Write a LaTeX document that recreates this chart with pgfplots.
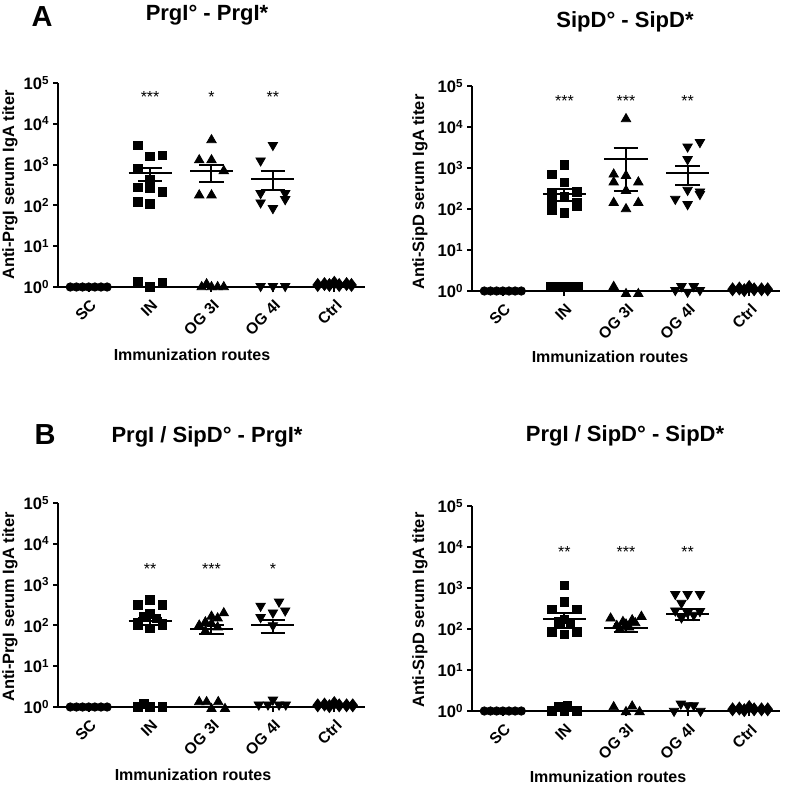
\documentclass[border=0pt]{standalone}
\usepackage{fontspec}
\setmainfont{Liberation Sans}
\usepackage{pgfplots}
\pgfplotsset{compat=1.18}

\newcommand\tf{\bfseries\fontsize{7.8}{9}\selectfont}

\pgfplotsset{
  every axis/.append style={
    scale only axis, clip=false,
    ymode=log, ymin=1, ymax=1e5, xmin=-0.5, xmax=4.5,
    axis x line=bottom, axis y line=left,
    axis line style={line width=1pt, -},
    xtick={0,1,2,3,4}, xticklabels={SC,IN,OG 3I,OG 4I,Ctrl},
    xticklabel style={rotate=45, anchor=north east, font=\tf, inner sep=1pt, xshift=-1pt, yshift=-1.5pt},
    ytick={1,10,100,1000,10000,100000},
    yticklabels={10\textsuperscript{0},10\textsuperscript{1},10\textsuperscript{2},10\textsuperscript{3},10\textsuperscript{4},10\textsuperscript{5}},
    yticklabel style={font=\bfseries\fontsize{8.3}{9}\selectfont, inner sep=1.5pt},
    yminorticks=false,
    tick style={line width=1pt, black}, major tick length=2.5pt, tick align=outside,
  },
  mcirc/.style={only marks, mark=*, mark size=2.1pt, black},
  msq/.style={only marks, mark=square*, mark size=2.1pt, black},
  mtu/.style={only marks, mark=triangle*, mark size=2.7pt, black},
  mtd/.style={only marks, mark=triangle*, mark size=2.7pt, mark options={rotate=180}, black},
  mdm/.style={only marks, mark=diamond*, mark size=3.2pt, black},
  msem/.style={black, line width=1pt, mark=none},
}
% mean line (x1,x2), centre x, caps (c1,c2), mean, lower, upper
\newcommand\msem[8]{%
  \addplot[msem] coordinates {(#1,#6) (#2,#6)};
  \addplot[msem] coordinates {(#3,#7) (#3,#8)};
  \addplot[msem] coordinates {(#4,#7) (#5,#7)};
  \addplot[msem] coordinates {(#4,#8) (#5,#8)};
}
\newcommand\stars[2]{\node[font=\fontsize{8}{9}\selectfont] at (axis cs:#1) {#2};}

\begin{document}
\begin{tikzpicture}
\path[use as bounding box] (0pt,0pt) rectangle (392pt,-393pt);

% ---------- A left
\begin{axis}[width=153.5pt, height=102pt, at={(29pt,-143.5pt)}, anchor=south west]
\addplot[mcirc] coordinates {(-0.3,1) (-0.2,1) (-0.1,1) (0,1) (0.1,1) (0.2,1) (0.3,1)};
\addplot[msq] coordinates {(0.8,3000) (1.0,1600) (1.2,1700) (0.8,800) (1.0,420) (0.8,275)
  (1.0,260) (1.2,215) (0.8,122) (1.0,108) (0.8,1.38) (1.0,1.0) (1.2,1.25)};
\addplot[mtu] coordinates {(2.0,4000) (1.8,1290) (2.0,1290) (2.2,700) (1.8,178) (2.0,178)
  (1.84,1.0) (1.92,1.18) (2.0,1.0) (2.1,1.0) (2.2,1.0)};
\addplot[mtd] coordinates {(3.0,3000) (2.8,1250) (2.8,198) (3.2,198) (2.8,117) (3.0,85)
  (3.2,141) (2.8,1.05) (3.0,1.05) (3.2,1.05)};
\addplot[mdm] coordinates {(3.73,1.12) (3.84,1.18) (3.92,1.12) (4.0,1.27) (4.08,1.12) (4.2,1.18) (4.28,1.12)};
\msem{0.65}{1.35}{1}{0.8}{1.2}{610}{400}{840}
\msem{1.65}{2.35}{2}{1.8}{2.2}{690}{380}{1000}
\msem{2.65}{3.35}{3}{2.8}{3.2}{440}{245}{700}
\stars{1,45000}{***}
\stars{2,45000}{*}
\stars{3,45000}{**}
\end{axis}

% ---------- A right
\begin{axis}[width=154pt, height=102.5pt, at={(236pt,-145.5pt)}, anchor=south west]
\addplot[mcirc] coordinates {(-0.3,1) (-0.2,1) (-0.1,1) (0,1) (0.1,1) (0.2,1) (0.3,1)};
\addplot[msq] coordinates {(1.0,1200) (0.8,700) (1.0,450) (1.2,260) (0.8,250) (1.0,200)
  (0.8,150) (1.2,140) (1.2,115) (0.8,95) (1.0,80)
  (0.78,1.3) (0.93,1.3) (1.07,1.3) (1.22,1.3)};
\addplot[mtu] coordinates {(2.0,15700) (1.8,700) (2.0,650) (1.8,450) (2.2,450) (2.0,280)
  (1.8,142) (2.0,100) (2.2,142) (1.8,1.27) (2.0,0.85) (2.2,0.85)};
\addplot[mtd] coordinates {(3.0,3300) (3.2,4250) (3.0,1630) (3.0,290) (3.2,265) (3.2,230)
  (2.8,175) (3.0,130) (2.8,1.05) (2.9,1.3) (3.0,0.95) (3.1,1.3) (3.2,1.05)};
\addplot[mdm] coordinates {(3.73,1.1) (3.84,1.15) (3.92,1.05) (4.0,1.25) (4.08,1.1) (4.2,1.1) (4.3,1.1)};
\msem{0.65}{1.35}{1}{0.8}{1.2}{235}{160}{310}
\msem{1.65}{2.35}{2}{1.8}{2.2}{1660}{280}{3000}
\msem{2.65}{3.35}{3}{2.8}{3.2}{760}{390}{1140}
\stars{1,43000}{***}
\stars{2,43000}{***}
\stars{3,43000}{**}
\end{axis}

% ---------- B left
\begin{axis}[width=153.5pt, height=102pt, at={(29pt,-353.5pt)}, anchor=south west]
\addplot[mcirc] coordinates {(-0.3,1) (-0.2,1) (-0.1,1) (0,1) (0.1,1) (0.2,1) (0.3,1)};
\addplot[msq] coordinates {(0.8,316) (1.0,420) (1.2,316) (1.0,198) (0.9,160) (1.1,150)
  (0.8,120) (1.2,110) (0.8,100) (1.2,100) (1.0,85)
  (0.8,1.0) (0.9,1.2) (1.0,1.0) (1.2,1.0)};
\addplot[mtu] coordinates {(2.2,200) (2.0,165) (2.1,150) (1.9,120) (2.0,110) (1.8,100)
  (2.1,90) (1.9,72) (1.8,1.33) (1.92,1.33) (2.0,0.9) (2.11,1.33) (2.22,0.9)};
\addplot[mtd] coordinates {(3.1,380) (2.8,300) (3.0,205) (3.2,230) (2.8,158) (3.0,100)
  (2.77,1.14) (2.92,1.14) (3.0,1.5) (3.1,1.14) (3.21,1.14)};
\addplot[mdm] coordinates {(3.73,1.1) (3.84,1.15) (3.92,1.05) (4.0,1.25) (4.08,1.1) (4.2,1.1) (4.3,1.1)};
\msem{0.65}{1.35}{1}{0.8}{1.2}{125}{100}{150}
\msem{1.65}{2.35}{2}{1.8}{2.2}{80}{60}{100}
\msem{2.65}{3.35}{3}{2.8}{3.2}{100}{64}{136}
\stars{1,2400}{**}
\stars{2,2400}{***}
\stars{3,2400}{*}
\end{axis}

% ---------- B right
\begin{axis}[width=154pt, height=102.5pt, at={(236pt,-355.5pt)}, anchor=south west]
\addplot[mcirc] coordinates {(-0.3,1) (-0.2,1) (-0.1,1) (0,1) (0.1,1) (0.2,1) (0.3,1)};
\addplot[msq] coordinates {(1.0,1150) (1.0,460) (0.8,300) (1.2,300) (1.0,170) (0.9,150)
  (1.1,130) (0.8,85) (1.0,75) (1.2,85)
  (0.8,1.0) (0.9,1.25) (1.05,1.35) (1.2,1.0) (1.0,1.0)};
\addplot[mtu] coordinates {(1.75,182) (1.95,150) (2.1,165) (2.25,200) (2.0,130) (2.15,140)
  (1.85,120) (2.05,110) (1.9,100) (1.8,1.25) (2.0,0.95) (2.1,1.3) (2.22,0.95)};
\addplot[mtd] coordinates {(2.8,710) (3.0,710) (3.2,710) (2.9,430) (2.8,280) (3.2,270)
  (3.0,250) (3.1,220) (2.9,190) (2.78,1.0) (2.89,1.5) (3.0,1.37) (3.1,1.37) (3.21,1.0)};
\addplot[mdm] coordinates {(3.73,1.1) (3.84,1.15) (3.92,1.05) (4.0,1.25) (4.08,1.1) (4.2,1.1) (4.3,1.1)};
\msem{0.65}{1.35}{1}{0.8}{1.2}{172}{105}{240}
\msem{1.65}{2.35}{2}{1.8}{2.2}{108}{86}{130}
\msem{2.65}{3.35}{3}{2.8}{3.2}{230}{165}{310}
\stars{1,7600}{**}
\stars{2,7600}{***}
\stars{3,7600}{**}
\end{axis}

% ---------- titles and labels (pixel coordinates of the reference)
\begin{scope}[x=0.5pt, y=-0.5pt]
\begin{scope}[every node/.style={font=\bfseries\fontsize{11}{13}\selectfont}]
\node at (207,15) {PrgI° - PrgI*};
\node at (625,22) {SipD° - SipD*};
\node at (207,437) {PrgI / SipD° - PrgI*};
\node at (625,436) {PrgI / SipD° - SipD*};
\end{scope}
\node[font=\bfseries\fontsize{14.5}{16}\selectfont] at (42,17) {A};
\node[font=\bfseries\fontsize{14.5}{16}\selectfont] at (45,435) {B};
\begin{scope}[every node/.style={font=\bfseries\fontsize{8.2}{9}\selectfont, rotate=90}]
\node at (10,185) {Anti-PrgI serum IgA titer};
\node at (420,192) {Anti-SipD serum IgA titer};
\node at (10,607) {Anti-PrgI serum IgA titer};
\node at (420,610) {Anti-SipD serum IgA titer};
\end{scope}
\begin{scope}[every node/.style={font=\bfseries\fontsize{8}{10}\selectfont}]
\node at (192,355) {Immunization routes};
\node at (610,357) {Immunization routes};
\node at (193,775) {Immunization routes};
\node at (608,777) {Immunization routes};
\end{scope}
\end{scope}
\end{tikzpicture}
\end{document}
